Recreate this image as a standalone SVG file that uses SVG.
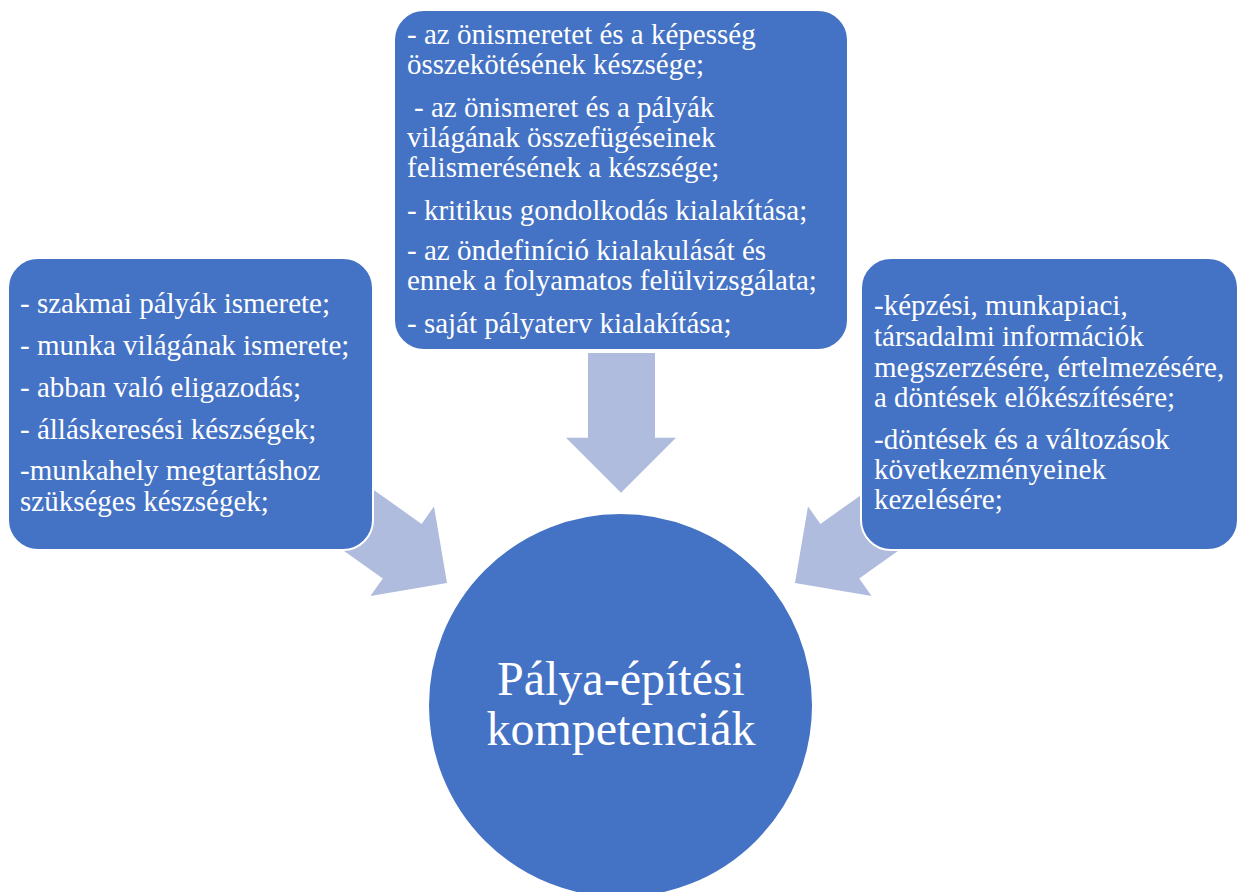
<svg xmlns="http://www.w3.org/2000/svg" width="1239" height="892" viewBox="0 0 1239 892">
<style>
.box{fill:#4472C4;stroke:#FFFFFF;stroke-width:2}
.arrow{fill:#B0BCDE;stroke:none}
</style>
<rect width="1239" height="892" fill="#FFFFFF"/>
<g id="connectors">
<polygon class="arrow" points="588,353 655,353 655,437.7 676,437.7 621,492.7 566,437.7 588,437.7"/>
<polygon class="arrow" points="352.3,474.7 421.6,523.9 434,506.4 447,583 370.4,596 382.8,578.5 313.5,529.3"/>
<polygon class="arrow" points="889.7,474.7 820.4,523.9 808,506.4 795,583 871.6,596 859.2,578.5 928.5,529.3"/>
</g>
<g id="node-left">
<rect class="box" x="8" y="258" width="365" height="292" rx="30" ry="30"/>
<text x="20" y="313" font-family="Liberation Serif" font-size="29" fill="#FFFFFF">- szakmai pályák ismerete;</text>
<text x="20" y="355" font-family="Liberation Serif" font-size="29" fill="#FFFFFF">- munka világának ismerete;</text>
<text x="20" y="397" font-family="Liberation Serif" font-size="29" fill="#FFFFFF">- abban való eligazodás;</text>
<text x="20" y="438.5" font-family="Liberation Serif" font-size="29" fill="#FFFFFF">- álláskeresési készségek;</text>
<text x="20" y="480" font-family="Liberation Serif" font-size="29" fill="#FFFFFF">-munkahely megtartáshoz</text>
<text x="20" y="511" font-family="Liberation Serif" font-size="29" fill="#FFFFFF">szükséges készségek;</text>
</g>
<g id="node-top">
<rect class="box" x="394" y="10" width="454" height="340" rx="30" ry="30"/>
<text x="407" y="43.5" font-family="Liberation Serif" font-size="29" fill="#FFFFFF">- az önismeretet és a képesség</text>
<text x="407" y="73.5" font-family="Liberation Serif" font-size="29" fill="#FFFFFF">összekötésének készsége;</text>
<text x="414" y="116.5" font-family="Liberation Serif" font-size="29" fill="#FFFFFF">- az önismeret és a pályák</text>
<text x="407" y="146.5" font-family="Liberation Serif" font-size="29" fill="#FFFFFF">világának összefügéseinek</text>
<text x="407" y="176.5" font-family="Liberation Serif" font-size="29" fill="#FFFFFF">felismerésének a készsége;</text>
<text x="407" y="220" font-family="Liberation Serif" font-size="29" fill="#FFFFFF">- kritikus gondolkodás kialakítása;</text>
<text x="407" y="260" font-family="Liberation Serif" font-size="29" fill="#FFFFFF">- az öndefiníció kialakulását és</text>
<text x="407" y="290" font-family="Liberation Serif" font-size="29" fill="#FFFFFF">ennek a folyamatos felülvizsgálata;</text>
<text x="407" y="333" font-family="Liberation Serif" font-size="29" fill="#FFFFFF">- saját pályaterv kialakítása;</text>
</g>
<g id="node-right">
<rect class="box" x="861" y="258" width="377" height="292" rx="30" ry="30"/>
<text x="874" y="315" font-family="Liberation Serif" font-size="29" fill="#FFFFFF">-képzési, munkapiaci,</text>
<text x="874" y="346" font-family="Liberation Serif" font-size="29" fill="#FFFFFF">társadalmi információk</text>
<text x="874" y="377" font-family="Liberation Serif" font-size="29" fill="#FFFFFF">megszerzésére, értelmezésére,</text>
<text x="874" y="407" font-family="Liberation Serif" font-size="29" fill="#FFFFFF">a döntések előkészítésére;</text>
<text x="874" y="448.5" font-family="Liberation Serif" font-size="29" fill="#FFFFFF">-döntések és a változások</text>
<text x="874" y="479" font-family="Liberation Serif" font-size="29" fill="#FFFFFF">következményeinek</text>
<text x="874" y="509" font-family="Liberation Serif" font-size="29" fill="#FFFFFF">kezelésére;</text>
</g>
<g id="node-center">
<circle class="box" cx="620.5" cy="705.5" r="192.5"/>
<text x="621" y="695" font-family="Liberation Serif" font-size="48" fill="#FFFFFF" text-anchor="middle">Pálya-építési</text>
<text x="621" y="745" font-family="Liberation Serif" font-size="48" fill="#FFFFFF" text-anchor="middle">kompetenciák</text>
</g>
</svg>
